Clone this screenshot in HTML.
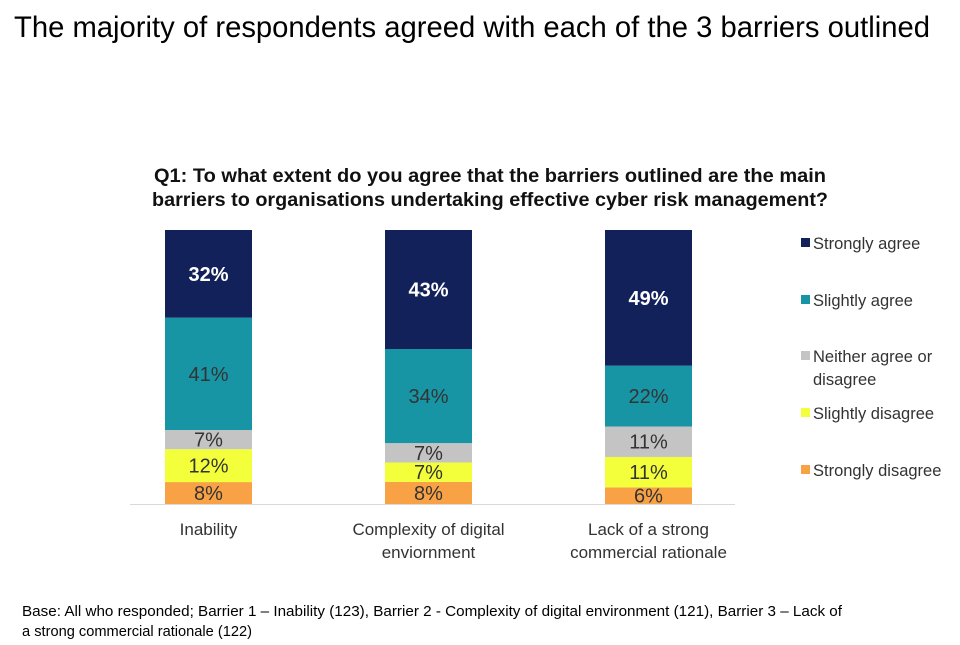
<!DOCTYPE html>
<html><head><meta charset="utf-8"><style>
body{margin:0;background:#fff;font-family:"Liberation Sans",Arial,sans-serif;}
svg text{font-family:"Liberation Sans",Arial,sans-serif;}
</style></head><body>
<svg id="c" width="960" height="640">
<text x="14" y="37" font-size="30" textLength="916" lengthAdjust="spacingAndGlyphs" fill="#000">The majority of respondents agreed with each of the 3 barriers outlined</text>
<text x="490" y="182" font-size="19" font-weight="bold" text-anchor="middle" textLength="672" lengthAdjust="spacingAndGlyphs" fill="#111">Q1: To what extent do you agree that the barriers outlined are the main</text>
<text x="490" y="206" font-size="19" font-weight="bold" text-anchor="middle" textLength="676" lengthAdjust="spacingAndGlyphs" fill="#111">barriers to organisations undertaking effective cyber risk management?</text>
<line x1="130" y1="504.5" x2="735" y2="504.5" stroke="#d9d9d9"/>
<g id="bars"></g>
<g id="legend"></g>
<text x="22" y="616" font-size="14.5" textLength="820" lengthAdjust="spacingAndGlyphs" fill="#000">Base: All who responded; Barrier 1 – Inability (123), Barrier 2 - Complexity of digital environment (121), Barrier 3 – Lack of</text>
<text x="22" y="636" font-size="14.5" textLength="230" lengthAdjust="spacingAndGlyphs" fill="#000">a strong commercial rationale (122)</text>
</svg>
<script>
const categories=[["Inability"],["Complexity of digital","enviornment"],["Lack of a strong","commercial rationale"]];
const seriesNames=["Strongly disagree","Slightly disagree","Neither agree or disagree","Slightly agree","Strongly agree"];
const stronglyDisagree=[8,8,6];
const slightlyDisagree=[12,7,11];
const neither=[7,7,11];
const slightlyAgree=[41,34,22];
const stronglyAgree=[32,43,49];
const series=[stronglyDisagree,slightlyDisagree,neither,slightlyAgree,stronglyAgree];
const colors=["#f9a245","#f3ff3b","#c4c4c4","#1795a5","#13215a"];
const ns="http://www.w3.org/2000/svg";
const top0=230,bottom0=504,barW=87,x0=165,step=220;
function xPos(i){return x0+i*step;}
const g=document.getElementById('bars');
function mk(t,a,p){const e=document.createElementNS(ns,t);for(const k in a)e.setAttribute(k,a[k]);p.appendChild(e);return e;}
categories.forEach((cat,i)=>{
  let total=0;series.forEach(s=>total+=s[i]);
  const scale=v=>v/total*(bottom0-top0);
  let y=bottom0;
  series.forEach((s,j)=>{
    const h=scale(s[i]);y-=h;
    const r=mk('rect',{x:xPos(i),y:y,width:barW,height:h,fill:colors[j]},g);
    
    
    const t=mk('text',{x:xPos(i)+barW/2,y:y+h/2+7,'font-size':20,'text-anchor':'middle',fill:j==4?'#fff':'#333','font-weight':j==4?'bold':'normal'},g);
    t.textContent=s[i]+'%';
    
    
  });
  cat.forEach((ln,k)=>{
    const t=mk('text',{x:xPos(i)+barW/2,y:535+k*23,'font-size':17,'text-anchor':'middle',fill:'#333'},g);
    t.textContent=ln;
    
    
  });
});
const lg=document.getElementById('legend');
const legendItems=[[4,["Strongly agree"],249],[3,["Slightly agree"],306],[2,["Neither agree or","disagree"],362],[1,["Slightly disagree"],419],[0,["Strongly disagree"],476]];
legendItems.forEach(([j,lines,y])=>{
  const r=mk('rect',{x:801,y:y-11,width:9,height:9,fill:colors[j]},lg);
  
  
  lines.forEach((ln,k)=>{
    const t=mk('text',{x:813,y:y+k*23,'font-size':16.5,fill:'#333'},lg);
    t.textContent=ln;
    
    
  });
});
</script>
</body></html>
